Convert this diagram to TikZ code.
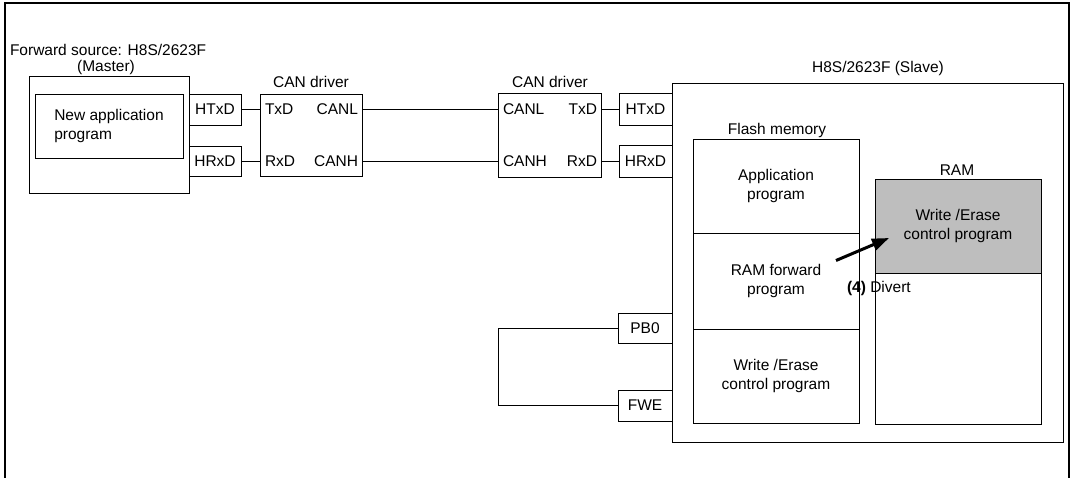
\documentclass[tikz,border=0pt]{standalone}
\usepackage{fontspec}
\setmainfont{Liberation Sans}
\usetikzlibrary{arrows.meta}
\begin{document}
\begin{tikzpicture}[x=1pt,y=-1pt,
  every node/.style={font=\fontsize{15.5}{19}\selectfont, inner sep=0pt, outer sep=0pt},
  bx/.style={draw, line width=1pt},
  wire/.style={line width=0.9pt},
  grayfill/.style={fill={rgb,255:red,190;green,190;blue,190}}]
\useasboundingbox (0,0) rectangle (1073,477);
% outer frame
\draw[line width=1.6pt] (5,490) -- (5,3) -- (1069,3) -- (1069,490);

% master side
\node[anchor=base west, text depth=0pt] (fwdsrc) at (10,55) {Forward source: H8S/2623F};
\node[anchor=base] (mastlbl) at (106,71) {(Master)};
\node[bx, minimum width=160pt, minimum height=117pt] (master) at (109,134.5) {};
\node[bx, minimum width=148pt, minimum height=64pt, align=left] (newapp) at (109,126) {New application\\program};
\node[bx, minimum width=52pt, minimum height=31pt] (htxdL) at (215,109.5) {HTxD};
\node[bx, minimum width=52pt, minimum height=30pt] (hrxdL) at (215,161) {HRxD};

% left CAN driver
\node (canLlbl) at (311,82) {CAN driver};
\node[bx, minimum width=102pt, minimum height=82pt] (canL) at (311,135) {};
\node[anchor=west] (txdL) at (265,109.5) {TxD};
\node[anchor=east] (canlL) at (358,109.5) {CANL};
\node[anchor=west] (rxdL) at (265,161) {RxD};
\node[anchor=east] (canhL) at (358,161) {CANH};

% right CAN driver
\node (canRlbl) at (550,82) {CAN driver};
\node[bx, minimum width=103pt, minimum height=84pt] (canR) at (549.5,135) {};
\node[anchor=west] (canlR) at (503,109.5) {CANL};
\node[anchor=east] (txdR) at (597,109.5) {TxD};
\node[anchor=west] (canhR) at (503,161) {CANH};
\node[anchor=east] (rxdR) at (597,161) {RxD};

% slave
\node (slavelbl) at (878,68) {H8S/2623F (Slave)};
\node[bx, minimum width=391pt, minimum height=359pt] (slave) at (867.5,262.5) {};
\node[bx, minimum width=53pt, minimum height=32pt] (htxdR) at (645.5,109) {HTxD};
\node[bx, minimum width=53pt, minimum height=32pt] (hrxdR) at (645.5,161) {HRxD};
\node[bx, minimum width=54pt, minimum height=30pt] (pb0) at (645,328) {PB0};
\node[bx, minimum width=54pt, minimum height=31pt] (fwe) at (645,405.5) {FWE};

% flash memory
\node (flashlbl) at (777,130) {Flash memory};
\node[bx, minimum width=166pt, minimum height=94pt, align=center] (appprog) at (776,186) {Application\\program};
\node[bx, minimum width=166pt, minimum height=96pt, align=center] (ramfwd) at (776,281) {RAM forward\\program};
\node[bx, minimum width=166pt, minimum height=94pt, align=center] (wecF) at (776,376) {Write /Erase\\control program};

% RAM
\node (ramlbl) at (957,170) {RAM};
\node[bx, minimum width=166pt, minimum height=245pt] (ram) at (958,301.5) {};
\node[bx, grayfill, minimum width=166pt, minimum height=94pt, align=center] (wecR) at (958,226) {Write /Erase\\control program};

% divert
\node[anchor=west] (divert) at (847,288) {\textbf{(4)} Divert};
\coordinate (arrtail) at (836,260.5);
\coordinate (arrtip) at (889,238);
\draw[line width=3pt, -{Triangle[length=17pt,width=12pt]}] (arrtail) -- (arrtip);

% connectors
\draw[wire] (htxdL.east) -- (htxdL.east -| canL.west);
\draw[wire] (hrxdL.east) -- (hrxdL.east -| canL.west);
\draw[wire] (htxdL.east -| canL.east) -- (htxdL.east -| canR.west);
\draw[wire] (hrxdL.east -| canL.east) -- (hrxdL.east -| canR.west);
\draw[wire] (htxdR.west) -- (htxdR.west -| canR.east);
\draw[wire] (hrxdR.west) -- (hrxdR.west -| canR.east);
\coordinate (wirex) at (498,328);
\draw[wire] (pb0.west) -- (pb0.west -| wirex) |- (fwe.west);
\end{tikzpicture}
\end{document}
